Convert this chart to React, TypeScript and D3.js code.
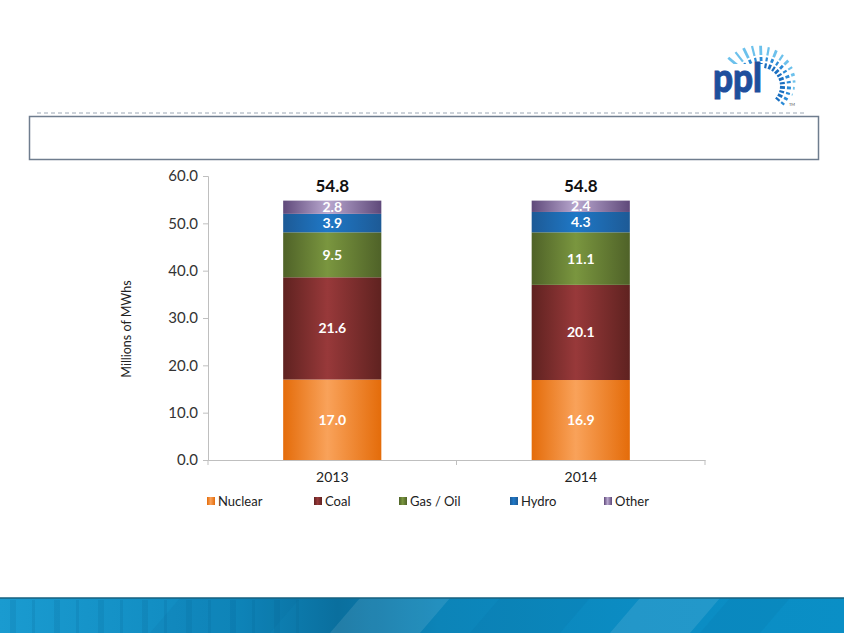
import { useEffect, useRef } from 'react';
import * as d3 from 'd3';

const years = ['2013', '2014'];
const seriesNames = ['Nuclear', 'Coal', 'Gas / Oil', 'Hydro', 'Other'];
const nuclear = [17.0, 16.9];
const coal = [21.6, 20.1];
const gasOil = [9.5, 11.1];
const hydro = [3.9, 4.3];
const other = [2.8, 2.4];
const totals = [54.8, 54.8];
const yTicks = [0, 10, 20, 30, 40, 50, 60];

// edge colour, centre colour for each series gradient
const shades: [string, string][] = [
  ['#e46c0a', '#f9a25a'],
  ['#5f2220', '#98393a'],
  ['#4f6228', '#7a963f'],
  ['#1d5a96', '#1f78c6'],
  ['#5f497a', '#b9a8cf'],
];
const legendX = [207, 314, 399, 510, 604];

export default function App() {
  const svgRef = useRef<SVGSVGElement>(null);

  useEffect(() => {
    if (!svgRef.current) return;
    const svg = d3.select(svgRef.current);
    svg.selectAll('*').remove();
    const font = 'Lato, "Open Sans", sans-serif';

    const defs = svg.append('defs');
    shades.forEach(([edge, mid], i) => {
      const lg = defs.append('linearGradient').attr('id', `g${i}`).attr('x1', 0).attr('x2', 1).attr('y1', 0).attr('y2', 0);
      lg.append('stop').attr('offset', '0%').attr('stop-color', edge);
      lg.append('stop').attr('offset', '45%').attr('stop-color', mid);
      lg.append('stop').attr('offset', '100%').attr('stop-color', edge);
    });
    const bg = defs.append('linearGradient').attr('id', 'banner').attr('x1', 0).attr('x2', 1);
    [['0%', '#1a9bd0'], ['28%', '#0f88bd'], ['40%', '#0a6f9e'], ['52%', '#0c84b8'], ['75%', '#0b8cc3'], ['100%', '#0a8fc6']]
      .forEach(([o, c]) => bg.append('stop').attr('offset', o).attr('stop-color', c));

    // header: dashed rule and empty title box
    svg.append('line').attr('x1', 37).attr('x2', 806).attr('y1', 113).attr('y2', 113)
      .attr('stroke', '#9aa6b4').attr('stroke-dasharray', '4,3');
    svg.append('rect').attr('x', 29.5).attr('y', 116.5).attr('width', 789).attr('height', 43)
      .attr('fill', 'white').attr('stroke', '#6f7d8e').attr('stroke-width', 1.5);

    // logo
    const logo = svg.append('g');
    const cx = 762, cy = 86;
    d3.range(-140, 41, 12).forEach((a, k) => {
      const r = (a * Math.PI) / 180;
      const outer = 44 - ((a + 140) / 180) * 14;
      const segs = [[18, 23, '#1a6fc0'], [25, 29, '#2a8ad6'], [31, outer, '#6cc1ec']] as [number, number, string][];
      segs.forEach(([r0, r1, c]) => {
        if (r1 <= r0) return;
        logo.append('line')
          .attr('x1', cx + r0 * Math.cos(r)).attr('y1', cy + r0 * Math.sin(r))
          .attr('x2', cx + r1 * Math.cos(r)).attr('y2', cy + r1 * Math.sin(r))
          .attr('stroke', c).attr('stroke-width', k % 2 ? 2.2 : 2.8);
      });
    });
    logo.append('rect').attr('x', 711).attr('y', 64).attr('width', 53).attr('height', 38).attr('fill', 'white');
    logo.append('text').attr('x', 713).attr('y', 92).attr('font-family', font).attr('font-weight', 900)
      .attr('font-size', 40).attr('fill', '#1f4e9c').attr('stroke', '#1f4e9c').attr('stroke-width', 1)
      .attr('textLength', 49).attr('lengthAdjust', 'spacingAndGlyphs')
      .text('ppl');
    logo.append('text').attr('x', 789).attr('y', 106).attr('font-family', font).attr('font-size', 4)
      .attr('fill', '#555').text('TM');

    // chart
    const x = d3.scaleBand().domain(years).range([208, 705]);
    const y = d3.scaleLinear().domain([0, 60]).range([460, 176]);
    const barW = x.bandwidth() * 0.395;

    const rows = years.map((yr, i) => ({
      year: yr, Nuclear: nuclear[i], Coal: coal[i], 'Gas / Oil': gasOil[i], Hydro: hydro[i], Other: other[i],
    }));
    const stacked = d3.stack<any>().keys(seriesNames)(rows);

    const g = svg.append('g');
    stacked.forEach((layer, si) => {
      g.selectAll(`.s${si}`).data(layer).join('rect')
        .attr('x', (d) => (x(d.data.year) as number) + x.bandwidth() / 2 - barW / 2)
        .attr('width', barW)
        .attr('y', (d) => y(d[1]))
        .attr('height', (d) => y(d[0]) - y(d[1]))
        .attr('fill', `url(#g${si})`);
      g.selectAll(`.l${si}`).data(layer).join('text')
        .attr('x', (d) => (x(d.data.year) as number) + x.bandwidth() / 2)
        .attr('y', (d) => (y(d[0]) + y(d[1])) / 2)
        .attr('dy', '0.36em').attr('text-anchor', 'middle')
        .attr('font-family', font).attr('font-weight', 700).attr('font-size', 14).attr('fill', 'white')
        .text((d) => (d[1] - d[0]).toFixed(1));
    });

    g.selectAll('.tot').data(years).join('text')
      .attr('x', (d) => (x(d) as number) + x.bandwidth() / 2)
      .attr('y', y(54.8) - 9)
      .attr('text-anchor', 'middle').attr('font-family', font).attr('font-weight', 700)
      .attr('font-size', 17).attr('fill', '#111')
      .text((_, i) => totals[i].toFixed(1));

    // y axis
    const ya = svg.append('g').attr('transform', 'translate(208,0)')
      .call(d3.axisLeft(y).tickValues(yTicks).tickSize(5).tickPadding(5).tickFormat((d) => (+d).toFixed(1)));
    ya.select('.domain').attr('stroke', '#bfbfbf');
    ya.selectAll('line').attr('stroke', '#bfbfbf');
    ya.selectAll('text').attr('font-family', font).attr('font-size', 15).attr('fill', '#333');

    // x axis
    const xa = svg.append('g').attr('transform', 'translate(0,460)')
      .call(d3.axisBottom(x).tickSize(0).tickPadding(12));
    xa.select('.domain').attr('stroke', '#bfbfbf');
    xa.selectAll('text').attr('font-family', font).attr('font-size', 14).attr('fill', '#222');
    [208, 456.5, 705].forEach((px) =>
      svg.append('line').attr('x1', px).attr('x2', px).attr('y1', 460).attr('y2', 465).attr('stroke', '#bfbfbf'));

    svg.append('text').attr('transform', 'translate(131,329) rotate(-90)')
      .attr('text-anchor', 'middle').attr('font-family', font).attr('font-size', 12.5).attr('fill', '#222')
      .text('Millions of MWhs');

    // legend
    const lg = svg.append('g');
    seriesNames.forEach((name, i) => {
      lg.append('rect').attr('x', legendX[i]).attr('y', 497).attr('width', 8).attr('height', 8).attr('fill', `url(#g${i})`);
      lg.append('text').attr('x', legendX[i] + 11).attr('y', 501).attr('dy', '0.36em')
        .attr('font-family', font).attr('font-size', 13).attr('fill', '#222').text(name);
    });

    // footer banner
    svg.append('rect').attr('x', 0).attr('y', 598).attr('width', 844).attr('height', 35).attr('fill', 'url(#banner)');
    d3.range(10, 300, 22).forEach((px, i) =>
      svg.append('rect').attr('x', px).attr('y', 600).attr('width', i % 2 ? 3 : 6).attr('height', 33)
        .attr('fill', '#06608c').attr('opacity', 0.15));
    const stripes = [[150, 270], [330, 420], [470, 560], [610, 690], [700, 760]];
    stripes.forEach(([a, b], i) =>
      svg.append('polygon')
        .attr('points', `${a + 30},598 ${b + 30},598 ${b},633 ${a},633`)
        .attr('fill', i % 2 ? '#ffffff' : '#05608f').attr('opacity', 0.1));
    svg.append('line').attr('x1', 0).attr('x2', 844).attr('y1', 598).attr('y2', 598).attr('stroke', '#16607f').attr('stroke-width', 1.5);
  }, []);

  return <svg ref={svgRef} width={844} height={633} style={{ position: 'absolute', left: 0, top: 0, background: 'white' }} />;
}
